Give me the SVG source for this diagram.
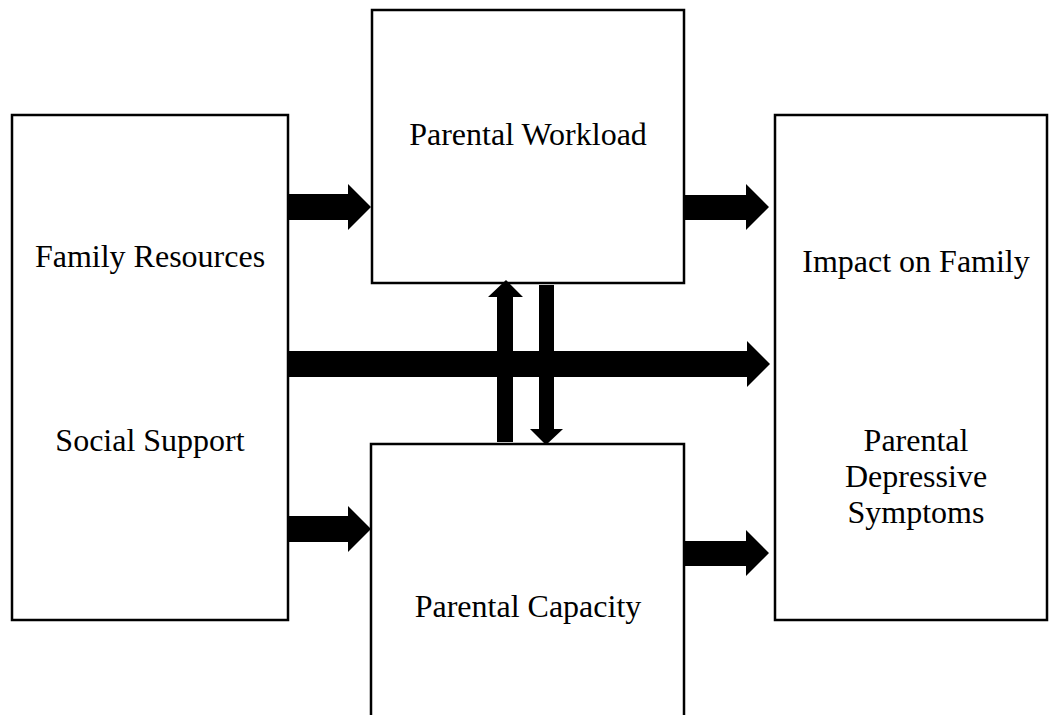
<svg xmlns="http://www.w3.org/2000/svg" width="1056" height="715" viewBox="0 0 1056 715">
<style>
.box{fill:#fff;stroke:#000;stroke-width:2.5}
.t{font-family:"Liberation Serif","Times New Roman",serif;font-size:32px;fill:#000;text-anchor:middle}
.arr{fill:#000;stroke:none}
</style>
<rect width="1056" height="715" fill="#fff"/>
<g id="family-resources-social-support">
<rect class="box" x="12" y="115" width="276" height="505"/>
<text class="t" x="150" y="267">Family Resources</text>
<text class="t" x="150" y="451">Social Support</text>
</g>
<g id="parental-workload">
<rect class="box" x="372" y="10" width="312" height="273"/>
<text class="t" x="528" y="145">Parental Workload</text>
</g>
<g id="parental-capacity">
<rect class="box" x="371" y="444" width="313" height="280"/>
<text class="t" x="528" y="617">Parental Capacity</text>
</g>
<g id="outcomes">
<rect class="box" x="775" y="115" width="272" height="505"/>
<text class="t" x="916" y="272">Impact on Family</text>
<text class="t" x="916" y="451">Parental</text>
<text class="t" x="916" y="487">Depressive</text>
<text class="t" x="916" y="523">Symptoms</text>
</g>
<g id="connectors">
<polygon class="arr" points="288,194 348,194 348,184 371,207 348,230 348,220 288,220"/>
<polygon class="arr" points="685,195 746,195 746,184 769,207 746,230 746,220 685,220"/>
<polygon class="arr" points="288,351 747,351 747,341 770,364 747,387 747,377 288,377"/>
<polygon class="arr" points="288,516 348,516 348,506 371,529 348,552 348,542 288,542"/>
<polygon class="arr" points="685,541 746,541 746,530 769,553 746,576 746,566 685,566"/>
<polygon class="arr" points="497,442 497,297 488,297 506,280 523,297 513,297 513,442"/>
<polygon class="arr" points="539,285 554,285 554,429 563,429 546,445 530,429 539,429"/>
</g>
</svg>
